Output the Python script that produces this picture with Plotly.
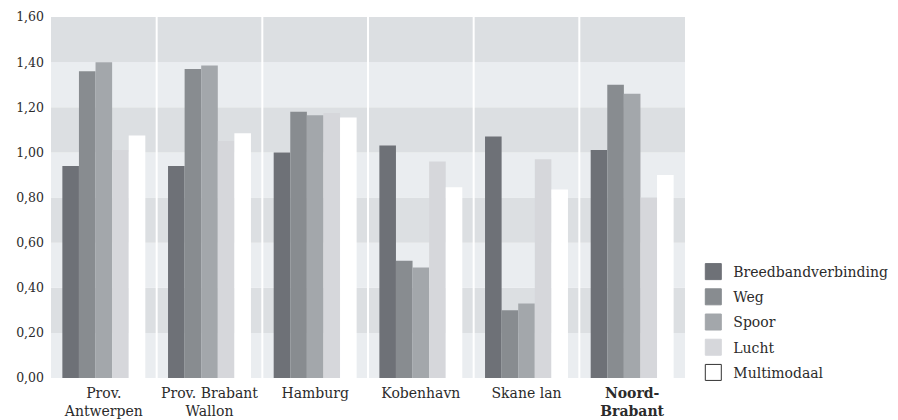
import plotly.graph_objects as go

categories = ["Prov.<br>Antwerpen", "Prov. Brabant<br>Wallon", "Hamburg",
              "Kobenhavn", "Skane lan", "<b>Noord-<br>Brabant</b>"]
series_names = ["Breedbandverbinding", "Weg", "Spoor", "Lucht", "Multimodaal"]
breedband = [0.94, 0.94, 1.00, 1.03, 1.07, 1.01]
weg = [1.36, 1.37, 1.18, 0.52, 0.30, 1.30]
spoor = [1.40, 1.385, 1.165, 0.49, 0.33, 1.26]
lucht = [1.01, 1.05, 1.175, 0.96, 0.97, 0.80]
multimodaal = [1.075, 1.085, 1.155, 0.845, 0.835, 0.90]
y_ticks = [0.0, 0.2, 0.4, 0.6, 0.8, 1.0, 1.2, 1.4, 1.6]

values = [breedband, weg, spoor, lucht, multimodaal]
colors = ["#6e7177", "#888c90", "#a3a7ab", "#d6d7db", "#ffffff"]
FONT = "DejaVu Serif"
TXT = "#2b2b2b"

fig = go.Figure()
for name, vals, col in zip(series_names, values, colors):
    fig.add_trace(go.Bar(x=categories, y=vals, name=name, marker_color=col,
                         marker_line_width=0, showlegend=False))
for i, (name, col) in enumerate(zip(series_names, colors)):
    fig.add_trace(go.Scatter(
        x=[categories[0]], y=[None], mode="markers", name=name,
        legendgroup=f"g{i}",
        marker=dict(symbol="square", size=16, color=col,
                    line=dict(color="#333333" if col == "#ffffff" else col, width=1)),
    ))

shapes = []
for k in range(len(y_ticks) - 1):
    shapes.append(dict(type="rect", xref="paper", yref="y", x0=0, x1=1,
                       y0=y_ticks[k], y1=y_ticks[k + 1], layer="below", line_width=0,
                       fillcolor="#eaedf0" if k % 2 == 0 else "#dcdfe2"))
for j in range(1, len(categories)):
    shapes.append(dict(type="line", xref="x", yref="paper", x0=j - 0.5, x1=j - 0.5,
                       y0=0, y1=1, layer="below", line=dict(color="#ffffff", width=2)))

fig.update_layout(
    width=890, height=412,
    margin=dict(l=43, r=213, t=9, b=42),
    paper_bgcolor="white", plot_bgcolor="white",
    barmode="group", bargap=0.215, bargroupgap=0,
    separators=",.",
    font=dict(family=FONT, size=14, color=TXT),
    shapes=shapes,
    showlegend=True,
    legend=dict(xref="container", yref="container", x=0.770, xanchor="left",
                y=0.398, yanchor="top",
                font=dict(family=FONT, size=14, color=TXT),
                tracegroupgap=4, bgcolor="rgba(0,0,0,0)"),
)
fig.update_xaxes(showgrid=False, showline=False, zeroline=False, ticks="",
                 automargin=False, ticklabelstandoff=5,
                 tickfont=dict(family=FONT, size=14, color=TXT))
fig.update_yaxes(range=[0, 1.6], tickvals=y_ticks, tickformat=".2f",
                 showgrid=False, zeroline=False, showline=False, ticks="",
                 automargin=False, ticklabelstandoff=6,
                 tickfont=dict(family=FONT, size=12.5, color=TXT))

fig.write_html("out.html")
